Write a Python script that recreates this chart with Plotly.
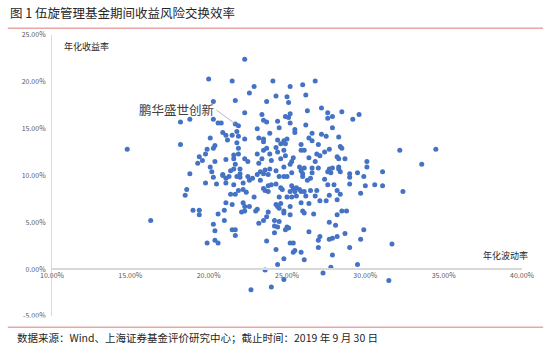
import plotly.graph_objects as go

title_text = "图 1 伍旋管理基金期间收益风险交换效率"
source_text = "数据来源：Wind、上海证券基金评价研究中心；截止时间：2019 年 9 月 30 日"
x_title = "年化波动率"
y_title = "年化收益率"
label_name = "鹏华盛世创新"
label_vol = 21.7
label_ret = 15.5

# annualized volatility (%)
vol = [22.3, 20.0, 21.5, 22.6, 20.3, 21.7, 22.3, 18.2, 18.8, 20.3, 20.6, 20.8, 21.7, 21.9, 21.8, 20.9, 21.1, 21.5, 21.9, 20.1,
       21.2, 22.3, 21.8, 18.2, 20.4, 20.3, 19.9, 21.9, 19.8, 21.6, 21.9, 19.4, 19.6, 20.4, 21.1, 21.6, 22.3, 22.5, 19.3, 21.7,
       20.1, 21.6, 22.0, 20.2, 18.8, 20.9, 21.4, 22.0, 14.8, 16.3, 24.1, 22.9, 25.2, 26.0, 26.8, 24.3, 25.0, 26.2, 23.7, 25.1,
       26.3, 27.2, 27.6, 28.5, 29.6, 23.4, 25.2, 24.9, 25.1, 27.9, 27.6, 29.2, 23.5, 23.7, 24.4, 25.2, 26.2, 24.5, 23.1, 25.5,
       25.5, 27.9, 23.9, 26.6, 27.2, 27.5, 23.2, 23.5, 24.4, 24.8, 25.0, 26.4, 26.6, 28.3, 23.5, 24.6, 24.9, 25.9, 27.0, 28.4,
       28.5, 23.7, 24.3, 23.5, 24.8, 25.9, 26.1, 27.7, 27.4, 23.1, 23.9, 24.4, 26.9, 27.1, 28.2, 24.9, 23.4, 24.0, 24.6, 25.4,
       26.4, 28.3, 28.7, 23.2, 25.3, 25.2, 26.8, 24.8, 25.8, 26.1, 26.6, 27.0, 27.7, 27.9, 28.3, 28.3, 30.1, 30.1, 23.6, 23.9,
       24.3, 23.3, 25.3, 25.9, 26.0, 26.6, 29.0, 29.5, 32.2, 34.5, 33.6, 31.1, 30.6, 31.1, 32.4, 31.7, 31.5, 20.3, 20.9, 21.1,
       21.3, 21.8, 22.0, 22.5, 19.8, 20.5, 21.1, 21.6, 22.2, 22.6, 18.6, 18.5, 21.4, 21.7, 21.9, 22.2, 22.4, 21.1, 21.5, 22.2,
       22.3, 22.6, 22.1, 22.3, 19.0, 19.4, 19.4, 21.0, 20.6, 21.0, 20.3, 20.4, 21.5, 21.7, 21.7, 20.4, 20.6, 19.9, 22.7, 23.1,
       22.8, 23.5, 23.8, 24.5, 24.8, 25.0, 26.0, 26.5, 26.3, 27.6, 27.8, 28.4, 29.0, 29.9, 23.3, 27.4, 27.6, 28.0, 29.0, 30.0,
       24.3, 24.0, 23.8, 23.6, 23.5, 24.6, 24.7, 25.3, 25.4, 25.6, 25.8, 25.2, 25.5, 25.9, 26.1, 26.5, 26.9, 26.8, 28.2, 28.4,
       29.7, 27.7, 23.8, 24.5, 25.0, 25.3, 25.6, 26.2, 22.9, 24.3, 24.4, 24.6, 24.5, 24.8, 25.2, 25.9, 26.4, 27.1, 27.5, 28.2,
       23.1, 23.0, 23.8, 24.8, 25.2, 26.0, 26.1, 26.7, 28.8, 28.5, 28.2, 23.7, 23.5, 23.2, 24.2, 24.5, 24.2, 24.4, 25.0, 25.1,
       24.9, 24.2, 27.7, 28.1, 26.4, 29.9, 28.7, 27.1, 27.7, 27.9, 28.2, 27.0, 29.7, 23.7, 25.2, 25.4, 27.0, 29.0, 24.3, 25.5,
       25.4, 25.9, 27.9, 24.8, 26.1, 24.4, 27.8, 29.5, 23.6, 27.3, 24.0, 24.8]

# annualized return (%)
ret = [22.4, 20.3, 20.1, 18.8, 17.9, 18.0, 16.7, 15.7, 16.0, 16.0, 15.6, 15.6, 15.5, 15.3, 14.7, 14.6, 14.3, 14.3, 14.2, 14.0,
       13.8, 13.9, 13.5, 13.3, 13.2, 12.9, 12.8, 12.9, 12.3, 12.2, 12.3, 12.0, 11.6, 11.5, 11.7, 11.8, 11.8, 11.5, 11.3, 11.2,
       10.9, 10.7, 10.7, 10.4, 10.2, 10.1, 10.5, 10.2, 12.8, 5.2, 20.1, 19.5, 19.5, 19.7, 20.1, 18.5, 18.4, 18.6, 17.9, 17.8,
       16.9, 17.2, 16.7, 16.8, 16.5, 16.5, 16.6, 16.3, 16.2, 16.3, 16.1, 16.0, 15.9, 15.7, 15.8, 15.6, 15.4, 15.1, 15.0, 14.9,
       14.6, 15.1, 14.5, 14.5, 14.4, 14.2, 14.0, 13.9, 13.8, 13.7, 13.9, 14.0, 13.7, 14.1, 13.6, 13.4, 13.4, 13.3, 13.3, 13.1,
       12.9, 12.9, 13.0, 12.7, 12.7, 12.7, 12.7, 12.8, 12.5, 12.3, 12.3, 12.5, 12.3, 12.1, 12.0, 12.1, 11.8, 11.6, 11.8, 11.9,
       11.9, 11.8, 11.8, 11.3, 11.5, 11.2, 11.5, 10.9, 10.9, 10.8, 10.8, 10.8, 10.7, 10.8, 10.9, 10.7, 11.5, 10.9, 10.6, 10.7,
       10.5, 10.4, 10.3, 10.5, 10.2, 10.3, 10.2, 10.3, 12.7, 12.8, 11.2, 10.4, 9.0, 8.9, 8.3, 2.7, -1.2, 9.8, 10.0, 9.7,
       9.9, 9.9, 9.8, 9.9, 9.2, 9.1, 9.2, 9.0, 9.2, 9.5, 8.5, 7.9, 8.0, 8.0, 8.4, 8.5, 8.2, 7.1, 6.9, 7.1,
       6.7, 6.7, 6.1, 6.2, 6.3, 6.3, 5.8, 6.3, 5.9, 5.2, 4.8, 4.1, 4.2, 4.2, 3.6, 3.1, 2.8, 2.8, -2.2, 10.1,
       9.7, 10.2, 10.1, 9.9, 9.9, 9.9, 9.9, 9.7, 9.5, 10.4, 10.3, 10.4, 9.8, 9.9, 9.5, 9.6, 9.0, 9.0, 9.1, 8.9,
       9.1, 9.0, 8.9, 8.4, 8.6, 8.7, 8.5, 8.9, 8.6, 8.7, 8.5, 8.3, 8.3, 8.3, 8.3, 8.4, 8.4, 7.8, 8.4, 8.0,
       8.1, 7.9, 8.3, 7.7, 7.7, 7.7, 7.8, 7.8, 7.7, 6.9, 6.7, 7.0, 6.5, 6.2, 6.7, 7.1, 7.0, 7.3, 7.3, 7.4,
       6.4, 6.2, 6.1, 6.0, 5.8, 6.2, 6.0, 5.9, 6.2, 6.2, 5.8, 5.6, 5.2, 4.9, 5.2, 5.1, 4.6, 4.5, 4.5, 4.4,
       4.2, 3.9, 5.0, 4.7, 4.0, 4.2, 3.8, 3.5, 3.2, 3.3, 3.5, 3.1, 3.2, 3.0, 2.8, 2.8, 2.3, 2.3, 2.1, 2.0,
       1.8, 1.8, 1.5, 1.1, 1.0, 0.5, 0.2, 0.5, -0.1, -0.4, -1.9, -1.1]

x_ticks = [10, 15, 20, 25, 30, 35, 40]
y_ticks = [-5, 0, 5, 10, 15, 20, 25]
x_ticktext = [f"{v:.2f}%" for v in x_ticks]
y_ticktext = [f"{v:.2f}%" for v in y_ticks]

CJK = "Noto Sans CJK SC"
RED = "#E8A6A6"
AXIS = "#D9D9D9"
TICK = "#595959"

fig = go.Figure()
fig.add_trace(go.Scatter(
    x=vol, y=ret, mode="markers",
    marker=dict(color="#4472C4", size=5, line=dict(width=0)),
    hoverinfo="x+y", showlegend=False,
))

fig.update_layout(
    width=550, height=355,
    margin=dict(l=52, r=28, t=35, b=39),
    paper_bgcolor="white", plot_bgcolor="white",
    font=dict(family=CJK, color=TICK),
    xaxis=dict(
        range=[10, 40], tickvals=x_ticks, ticktext=x_ticktext,
        showgrid=False, zeroline=False, showline=True, linecolor=AXIS, linewidth=1.5,
        anchor="free", position=(0 - y_ticks[0]) / (y_ticks[-1] - y_ticks[0]),
        ticks="", ticklen=0, tickfont=dict(size=7, color=TICK, family=CJK),
    ),
    yaxis=dict(
        range=[-5, 25], tickvals=y_ticks, ticktext=y_ticktext,
        showgrid=False, zeroline=False, showline=True, linecolor=AXIS, linewidth=1,
        ticks="", ticklabelstandoff=4, tickfont=dict(size=7, color=TICK, family=CJK),
    ),
    shapes=[
        dict(type="rect", xref="paper", yref="paper", x0=-0.2, x1=1.2, y0=-0.005, y1=-0.3,
             fillcolor="white", line=dict(width=0), layer="above"),
        dict(type="line", xref="paper", yref="paper", x0=-0.094, x1=1.045, y0=1.024, y1=1.024,
             line=dict(color=RED, width=1.5), layer="above"),
        dict(type="line", xref="paper", yref="paper", x0=-0.094, x1=1.045, y0=-0.04, y1=-0.04,
             line=dict(color=RED, width=1.5), layer="above"),
    ],
    annotations=[
        dict(text=title_text, xref="paper", yref="paper", x=-0.094, y=1.081,
             xanchor="left", yanchor="middle", showarrow=False,
             font=dict(size=12.5, color="#262626", family=CJK)),
        dict(text=source_text, xref="paper", yref="paper", x=-0.078, y=-0.075,
             xanchor="left", yanchor="middle", showarrow=False,
             font=dict(size=10.5, color="#262626", family=CJK)),
        dict(text=y_title, xref="paper", yref="paper", x=0.021, y=0.96,
             xanchor="left", yanchor="middle", showarrow=False,
             font=dict(size=9, color="#262626", family=CJK)),
        dict(text=x_title, xref="paper", yref="paper", x=1.017, y=0.216,
             xanchor="right", yanchor="middle", showarrow=False,
             font=dict(size=9, color="#262626", family=CJK)),
        dict(text=label_name, x=label_vol, y=label_ret, xref="x", yref="y",
             showarrow=True, arrowhead=0, arrowwidth=0.8, arrowcolor="#A6A6A6",
             ax=-19, ay=-14, xanchor="right", yanchor="middle",
             font=dict(size=12.5, color="#404040", family=CJK)),
    ],
)

fig.write_html("out.html")
